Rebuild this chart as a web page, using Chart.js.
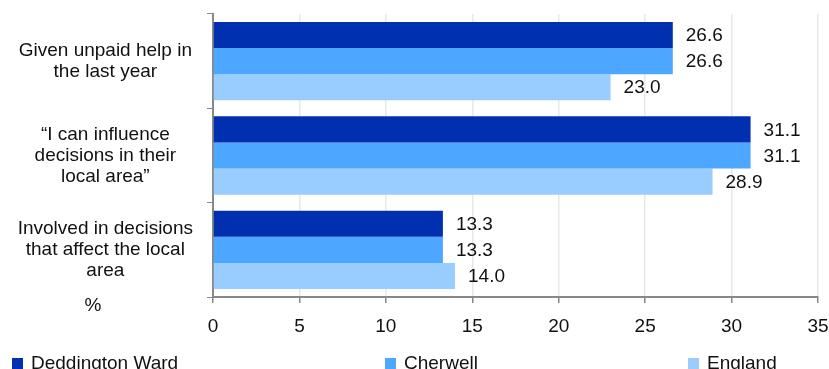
<!DOCTYPE html>
<html><head><meta charset="utf-8">
<script src="https://cdn.jsdelivr.net/npm/chart.js@4"></script>
<style>
html,body{margin:0;padding:0;background:#fff;}
#wrap{position:relative;width:829px;height:369px;overflow:hidden;}
#legend{position:absolute;left:0;top:352px;width:829px;height:30px;font-family:"Liberation Sans",Arial,sans-serif;font-size:19px;color:#111;}
.li{position:absolute;top:0;display:flex;align-items:center;}
.sw{width:11px;height:11px;margin-right:8px;}
</style></head>
<body><div id="wrap"><canvas id="c" width="829" height="369"></canvas>
<div id="legend"></div></div>
<script>
const categories = [["Given unpaid help in","the last year"],["\u201cI can influence","decisions in their","local area\u201d"],["Involved in decisions","that affect the local","area"]];
const seriesNames = ["Deddington Ward","Cherwell","England"];
const deddington = [26.6, 31.1, 13.3];
const cherwell = [26.6, 31.1, 13.3];
const england = [23.0, 28.9, 14.0];
const xTicks = [0,5,10,15,20,25,30,35];
const colors = ["#0030b0","#4da6ff","#99ccff"];
const FONT = "Liberation Sans";

const legendPos = [12, 385, 688];
const lg = document.getElementById('legend');
seriesNames.forEach((n,i)=>{
  const d=document.createElement('div');d.className='li';d.style.left=legendPos[i]+'px';
  d.innerHTML='<div class="sw" style="background:'+colors[i]+'"></div><span>'+n+'</span>';
  lg.appendChild(d);
});

const valueLabels = {
  id:'valueLabels',
  afterDatasetsDraw(chart){
    const ctx=chart.ctx;
    ctx.save();
    ctx.font='19px "'+FONT+'"';ctx.fillStyle='#111';ctx.textBaseline='middle';ctx.textAlign='left';
    chart.data.datasets.forEach((ds,di)=>{
      chart.getDatasetMeta(di).data.forEach((bar,i)=>{
        ctx.fillText(ds.data[i].toFixed(1), bar.x+13, bar.y+1);
      });
    });
    ctx.textAlign='center';
    ctx.fillText('%', 93, 306);
    ctx.restore();
  }
};

new Chart(document.getElementById('c'),{
  type:'bar',
  data:{labels:categories,datasets:[
    {label:seriesNames[0],data:deddington,backgroundColor:colors[0]},
    {label:seriesNames[1],data:cherwell,backgroundColor:colors[1]},
    {label:seriesNames[2],data:england,backgroundColor:colors[2]}
  ]},
  options:{
    indexAxis:'y',responsive:false,animation:false,
    datasets:{bar:{barPercentage:1,categoryPercentage:0.83}},
    layout:{padding:{top:14,right:11,left:0,bottom:32}},
    plugins:{legend:{display:false},tooltip:{enabled:false}},
    scales:{
      x:{min:0,max:35,
        afterBuildTicks(s){s.ticks=xTicks.map(v=>({value:v}));},
        afterFit(s){s.height=40;s.paddingLeft=0;s.paddingRight=0;},
        grid:{color:'#e8e8e8',lineWidth:1.5,tickColor:'#888',tickLength:6,drawTicks:true},
        border:{color:'#888',width:2},
        ticks:{font:{family:FONT,size:19},color:'#111',padding:12}
      },
      y:{
        afterFit(s){s.width=213;s.paddingTop=0;s.paddingBottom=0;},
        grid:{drawOnChartArea:false,tickColor:'#888',tickLength:6,offset:true},
        border:{color:'#888',width:2},
        ticks:{font:{family:FONT,size:19,lineHeight:1.1},color:'#111',crossAlign:'center',padding:14}
      }
    }
  },
  plugins:[valueLabels]
});
</script></body></html>
